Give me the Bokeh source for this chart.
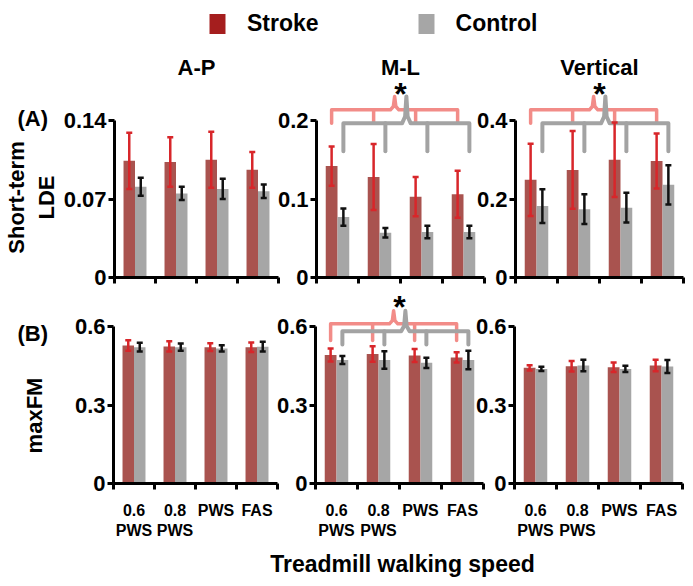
import math
from bokeh.plotting import figure
from bokeh.layouts import row, column
from bokeh.models import (Range1d, FixedTicker, PrintfTickFormatter, ColumnDataSource,
                          Whisker, TeeHead, Legend)
from bokeh.core.properties import value
from bokeh.embed import file_html
from bokeh.resources import INLINE

FONT = "Liberation Sans"

# ---------------- data ----------------
groups = ["Stroke", "Control"]
directions = ["A-P", "M-L", "Vertical"]
speeds = ["0.6\nPWS", "0.8\nPWS", "PWS", "FAS"]
row_labels = ["Short-term\nLDE", "maxFM"]
row_tags = ["(A)", "(B)"]
x_title = "Treadmill walking speed"

lde_stroke = {"A-P": [0.104, 0.103, 0.105, 0.096],
              "M-L": [0.142, 0.128, 0.103, 0.106],
              "Vertical": [0.249, 0.274, 0.300, 0.297]}
lde_stroke_err = {"A-P": [0.025, 0.022, 0.025, 0.016],
                  "M-L": [0.025, 0.042, 0.025, 0.030],
                  "Vertical": [0.092, 0.099, 0.095, 0.070]}
lde_control = {"A-P": [0.081, 0.075, 0.079, 0.077],
               "M-L": [0.077, 0.057, 0.058, 0.058],
               "Vertical": [0.182, 0.174, 0.178, 0.236]}
lde_control_err = {"A-P": [0.008, 0.006, 0.009, 0.006],
                   "M-L": [0.011, 0.006, 0.008, 0.008],
                   "Vertical": [0.043, 0.038, 0.038, 0.050]}

maxfm_stroke = {"A-P": [0.527, 0.524, 0.521, 0.521],
                "M-L": [0.491, 0.495, 0.489, 0.482],
                "Vertical": [0.442, 0.448, 0.444, 0.451]}
maxfm_stroke_err = {"A-P": [0.020, 0.020, 0.015, 0.018],
                    "M-L": [0.025, 0.030, 0.025, 0.020],
                    "Vertical": [0.010, 0.020, 0.018, 0.022]}
maxfm_control = {"A-P": [0.521, 0.521, 0.516, 0.523],
                 "M-L": [0.472, 0.472, 0.461, 0.472],
                 "Vertical": [0.438, 0.451, 0.438, 0.447]}
maxfm_control_err = {"A-P": [0.017, 0.014, 0.012, 0.019],
                     "M-L": [0.015, 0.033, 0.020, 0.035],
                     "Vertical": [0.008, 0.022, 0.012, 0.025]}

lde_ticks = {"A-P": [0, 0.07, 0.14], "M-L": [0, 0.1, 0.2], "Vertical": [0, 0.2, 0.4]}
maxfm_ticks = [0, 0.3, 0.6]
lde_sig = ["M-L", "Vertical"]
maxfm_sig = ["M-L"]

# ---------------- style ----------------
STROKE_BAR = "#A9534F"
CONTROL_BAR = "#A6A6A6"
STROKE_ERR = "#D8262A"
CONTROL_ERR = "#111111"
LEG_STROKE = "#A51E1E"
LEG_CONTROL = "#A6A6A6"
RED_BRACE = "#F28C88"
GRAY_BRACE = "#A3A3A3"

SIDE_W = 60
FRAME_W = [164, 168, 168]
LEFT_B = [53, 48, 48]
RIGHT_B = 3
MARGIN_L = [0, -13, -20]
AXIS_PX = 157          # pixels from 0 to the top tick
ROW_A_FRAME_H, ROW_A_BOTTOM = 229, 13
ROW_B_FRAME_H, ROW_B_BOTTOM = 193, 60
DODGE, BAR_W = 0.14, 0.28

BRACE_A = dict(red_h=1.068, red_end=0.983, gray_h=0.983, gray_end=0.804, notch=1.153, star=1.19)
BRACE_B = dict(red_h=1.017, red_end=0.911, gray_h=0.970, gray_end=0.885, notch=1.10, star=1.146)
TITLE_Y = 1.3376


def brace(xl, xr, xm1, xm2, h, end, top):
    mid = (xl + xr) / 2
    d = 0.1
    xs = [xl, xl, mid - d, mid - 0.03, mid, mid + 0.03, mid + d, xr, xr]
    ys = [end, h, h, h + (top - h) * 0.25, top, h + (top - h) * 0.25, h, h, end]
    return [xs, [xm1, xm1], [xm2, xm2]], [ys, [h, end], [h, end]]


def bare_fig(w, h):
    f = figure(frame_width=w, frame_height=h, x_range=Range1d(0, w), y_range=Range1d(0, h),
               toolbar_location=None, output_backend="svg", min_border=0,
               x_axis_location=None, y_axis_location=None, title=None,
               outline_line_color=None, background_fill_color=None, border_fill_color=None)
    f.grid.visible = False
    return f


def make_panel(k, stroke, s_err, control, c_err, ticks, frame_h, bottom_b,
               show_xlabels, sig, br, title=None):
    top = ticks[-1]
    n = len(speeds)
    ymax = top * frame_h / AXIS_PX
    p = figure(frame_width=FRAME_W[k], frame_height=frame_h,
               x_range=Range1d(0, n), y_range=Range1d(0, ymax),
               output_backend="svg", toolbar_location=None, title=None,
               min_border_left=LEFT_B[k], min_border_right=RIGHT_B,
               min_border_top=0, min_border_bottom=bottom_b,
               background_fill_color=None, border_fill_color=None,
               outline_line_color=None, margin=(0, 0, 0, MARGIN_L[k]))
    p.grid.visible = False
    centers = [i + 0.5 for i in range(n)]
    xs = [c - DODGE for c in centers]
    xc = [c + DODGE for c in centers]
    p.vbar(x=xs, top=stroke, width=BAR_W, fill_color=STROKE_BAR, line_color=None)
    p.vbar(x=xc, top=control, width=BAR_W, fill_color=CONTROL_BAR, line_color=None)

    for xx, v, e, col in ((xs, stroke, s_err, STROKE_ERR), (xc, control, c_err, CONTROL_ERR)):
        src = ColumnDataSource(dict(x=xx, upper=[a + b for a, b in zip(v, e)],
                                    lower=[a - b for a, b in zip(v, e)]))
        w = Whisker(source=src, base="x", upper="upper", lower="lower", dimension="height",
                    line_color=col, line_width=2.5, level="overlay",
                    upper_head=TeeHead(size=6, line_color=col, line_width=2.5),
                    lower_head=TeeHead(size=6, line_color=col, line_width=2.5))
        p.add_layout(w)

    if sig:
        rx, ry = brace(xs[0], xs[-1], xs[1], xs[2], top * br["red_h"], top * br["red_end"], top * br["notch"])
        p.multi_line(rx, ry, line_color=RED_BRACE, line_width=3.5, line_join="round", line_cap="round")
        gx, gy = brace(xc[0], xc[-1], xc[1], xc[2], top * br["gray_h"], top * br["gray_end"], top * br["notch"])
        p.multi_line(gx, gy, line_color=GRAY_BRACE, line_width=4, line_join="round", line_cap="round")
        p.text(x=[(xs[0] + xc[-1]) / 2], y=[top * br["star"]], text=["*"],
               text_font=value(FONT), text_font_style="bold", text_font_size="32px",
               text_align="center", text_baseline="middle", y_offset=3, text_color="#000000")

    if title:
        p.text(x=[n / 2], y=[top * TITLE_Y], text=[title], text_font=value(FONT),
               text_font_style="bold", text_font_size="22px", text_align="center",
               text_baseline="middle", text_color="#000000")

    # y axis
    ya = p.yaxis[0]
    ya.ticker = FixedTicker(ticks=ticks, minor_ticks=[])
    ya.formatter = PrintfTickFormatter(format="%g")
    ya.bounds = (0, top)
    ya.axis_line_width = 3
    ya.major_tick_line_width = 3
    ya.major_tick_out = 6
    ya.major_tick_in = 0
    ya.minor_tick_out = 0
    ya.minor_tick_in = 0
    ya.major_label_standoff = 2
    ya.major_label_text_font = FONT
    ya.major_label_text_font_style = "bold"
    ya.major_label_text_font_size = "22px"
    ya.major_label_text_color = "#000000"

    # x axis
    xa = p.xaxis[0]
    if show_xlabels:
        xa.ticker = FixedTicker(ticks=centers, minor_ticks=list(range(n + 1)))
        xa.major_label_overrides = {c: s for c, s in zip(centers, speeds)}
        xa.major_label_text_font = FONT
        xa.major_label_text_font_style = "bold"
        xa.major_label_text_font_size = "16px"
        xa.major_label_text_color = "#000000"
        xa.major_label_standoff = 12
    else:
        xa.ticker = FixedTicker(ticks=[], minor_ticks=list(range(n + 1)))
        xa.major_label_standoff = 0
    xa.axis_line_width = 3
    xa.major_tick_out = 0
    xa.major_tick_in = 0
    xa.minor_tick_out = 6
    xa.minor_tick_in = 0
    xa.minor_tick_line_width = 3
    xa.minor_tick_line_color = "#000000"
    return p


row_a = []
row_b = []
for k, d in enumerate(directions):
    row_a.append(make_panel(k, lde_stroke[d], lde_stroke_err[d], lde_control[d], lde_control_err[d],
                            lde_ticks[d], ROW_A_FRAME_H, ROW_A_BOTTOM, False, d in lde_sig, BRACE_A,
                            title=d))
    row_b.append(make_panel(k, maxfm_stroke[d], maxfm_stroke_err[d], maxfm_control[d], maxfm_control_err[d],
                            maxfm_ticks, ROW_B_FRAME_H, ROW_B_BOTTOM, True, d in maxfm_sig, BRACE_B))

# side strip with panel tags and row titles (pixel coordinates, y measured upward)
side_h = ROW_A_FRAME_H + ROW_A_BOTTOM + ROW_B_FRAME_H + ROW_B_BOTTOM
side = bare_fig(SIDE_W, side_h)
txt = dict(text_font=value(FONT), text_font_style="bold", text_font_size="22px",
           text_baseline="middle", text_color="#000000", text_line_height=1.18)
side.text(x=[17, 17], y=[side_h - 69.5, side_h - 285], text=row_tags, text_align="left", **txt)
side.text(x=[31, 33.5], y=[side_h - 149, side_h - 367], text=row_labels, angle=math.pi / 2,
          text_align="center", **txt)

# legend strip
leg = bare_fig(693, 48)
r1 = leg.vbar(x=[300], top=[0], width=1, fill_color=LEG_STROKE, line_color=None)
r2 = leg.vbar(x=[300], top=[0], width=1, fill_color=LEG_CONTROL, line_color=None)
legend = Legend(items=[(groups[0], [r1]), (groups[1], [r2])], orientation="horizontal",
                location=(207, 11), label_text_font=FONT, label_text_font_style="bold",
                label_text_font_size="23px", label_text_color="#000000",
                glyph_width=20, glyph_height=25,
                label_standoff=20, spacing=97, padding=0, margin=0,
                border_line_color=None, background_fill_alpha=0)
leg.add_layout(legend)

# x title strip
strip = bare_fig(693, 35)
strip.text(x=[402], y=[14.5], text=[x_title], text_font=value(FONT), text_font_style="bold",
           text_font_size="23px", text_align="center", text_baseline="middle", text_color="#000000")

layout = column(leg, row(side, column(row(*row_a), row(*row_b))), strip)
open("out.html", "w").write(file_html(layout, INLINE))
